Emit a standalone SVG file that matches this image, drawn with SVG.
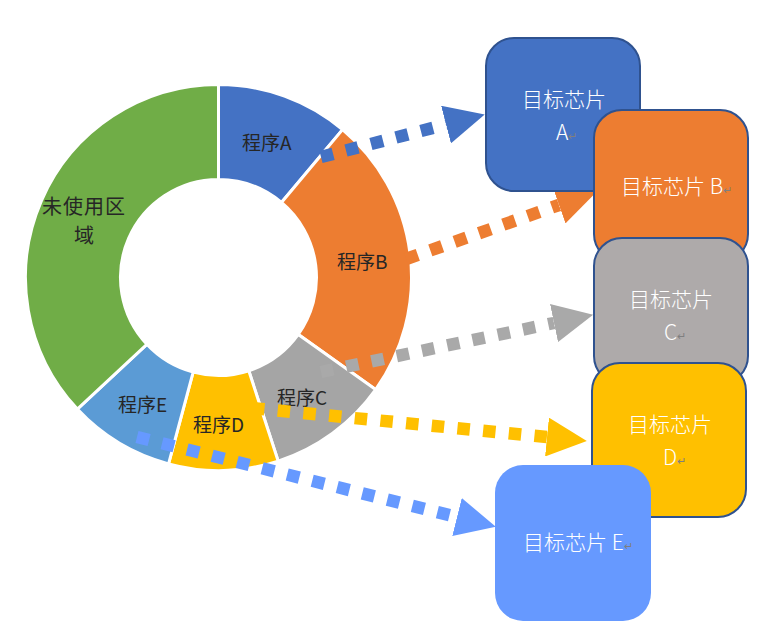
<svg xmlns="http://www.w3.org/2000/svg" width="770" height="635" viewBox="0 0 770 635">
<style>
.seg{stroke:#FFFFFF;stroke-width:3;stroke-linejoin:miter}
.lbl{font-family:"Noto Sans CJK SC","Noto Sans",sans-serif;font-size:19px;fill:#262626}
.box{stroke:#2F528F;stroke-width:2}
.bt{font-family:"Noto Sans CJK SC","Noto Sans",sans-serif;font-size:21px;fill:#FFFFFF;font-weight:300}
.rm{font-size:11px;fill:#7F7F7F}
.arr{fill:none;stroke-width:12.5;stroke-dasharray:12.5 13.3;stroke-linecap:butt}
</style>
<defs>
<marker id="hA" markerUnits="userSpaceOnUse" markerWidth="40" markerHeight="39" viewBox="0 0 40 39" refX="0" refY="19.5" orient="auto"><path d="M0,0 L40,19.5 L0,39 Z" fill="#4472C4"/></marker>
<marker id="hB" markerUnits="userSpaceOnUse" markerWidth="40" markerHeight="39" viewBox="0 0 40 39" refX="0" refY="19.5" orient="auto"><path d="M0,0 L40,19.5 L0,39 Z" fill="#ED7D31"/></marker>
<marker id="hC" markerUnits="userSpaceOnUse" markerWidth="40" markerHeight="39" viewBox="0 0 40 39" refX="0" refY="19.5" orient="auto"><path d="M0,0 L40,19.5 L0,39 Z" fill="#A9A9A9"/></marker>
<marker id="hD" markerUnits="userSpaceOnUse" markerWidth="40" markerHeight="39" viewBox="0 0 40 39" refX="0" refY="19.5" orient="auto"><path d="M0,0 L40,19.5 L0,39 Z" fill="#FFC000"/></marker>
<marker id="hE" markerUnits="userSpaceOnUse" markerWidth="40" markerHeight="39" viewBox="0 0 40 39" refX="0" refY="19.5" orient="auto"><path d="M0,0 L40,19.5 L0,39 Z" fill="#6699FF"/></marker>
</defs>

<g id="donut">
<g id="segA"><path class="seg" fill="#4472C4" d="M218.5,84.5 A193,193 0 0 1 342.56,129.66 L281.49,202.43 A98,98 0 0 0 218.5,179.5 Z"/><text class="lbl" x="242" y="150">程序A</text></g>
<g id="segB"><path class="seg" fill="#ED7D31" d="M342.56,129.66 A193,193 0 0 1 375.62,389.58 L298.28,334.41 A98,98 0 0 0 281.49,202.43 Z"/><text class="lbl" x="337" y="269">程序B</text></g>
<g id="segC"><path class="seg" fill="#A5A5A5" d="M375.62,389.58 A193,193 0 0 1 278.14,461.06 L248.78,370.71 A98,98 0 0 0 298.28,334.41 Z"/><text class="lbl" x="277" y="405">程序C</text></g>
<g id="segD"><path class="seg" fill="#FFC000" d="M278.14,461.06 A193,193 0 0 1 168.55,463.92 L193.14,372.16 A98,98 0 0 0 248.78,370.71 Z"/><text class="lbl" x="193" y="432">程序D</text></g>
<g id="segE"><path class="seg" fill="#5B9BD5" d="M168.55,463.92 A193,193 0 0 1 77.34,409.13 L146.82,344.34 A98,98 0 0 0 193.14,372.16 Z"/><text class="lbl" x="118" y="412">程序E</text></g>
<g id="segU"><path class="seg" fill="#70AD47" d="M77.34,409.13 A193,193 0 0 1 218.5,84.5 L218.5,179.5 A98,98 0 0 0 146.82,344.34 Z"/><text class="lbl" x="42" y="214" style="font-size:20px;letter-spacing:1px">未使用区</text><text class="lbl" x="74" y="243" style="font-size:20px">域</text></g>
</g>

<g id="connectors">
<path class="arr" stroke="#4472C4" d="M321,157 L446,124.5" marker-end="url(#hA)"/>
<path class="arr" stroke="#ED7D31" d="M406,259 L559,205" marker-end="url(#hB)"/>
<path class="arr" stroke="#A9A9A9" d="M321,372 L554,323" marker-end="url(#hC)"/>
<path class="arr" stroke="#FFC000" d="M252,408 L547,437" marker-end="url(#hD)"/>
<path class="arr" stroke="#6699FF" d="M137,437 L457,517" marker-end="url(#hE)"/>
</g>

<g id="chipA"><rect class="box" x="486" y="38" width="154" height="153" rx="28" fill="#4472C4"/><text class="bt" x="564" y="107" text-anchor="middle">目标芯片</text><text class="bt" x="556" y="140">A<tspan class="rm">↵</tspan></text></g>
<g id="chipB"><rect class="box" x="594" y="110" width="154" height="152" rx="28" fill="#ED7D31"/><text class="bt" x="621" y="194">目标芯片 B<tspan class="rm">↵</tspan></text></g>
<g id="chipC"><rect class="box" x="594" y="238" width="154" height="146" rx="28" fill="#AEAAAA"/><text class="bt" x="671" y="307" text-anchor="middle">目标芯片</text><text class="bt" x="664" y="340">C<tspan class="rm">↵</tspan></text></g>
<g id="chipD"><rect class="box" x="592" y="363" width="154" height="154" rx="28" fill="#FFC000"/><text class="bt" x="670" y="432" text-anchor="middle">目标芯片</text><text class="bt" x="663" y="465">D<tspan class="rm">↵</tspan></text></g>
<g id="chipE"><rect x="495" y="465" width="156" height="156" rx="28" fill="#6699FF"/><text class="bt" x="523" y="550">目标芯片 E<tspan class="rm">↵</tspan></text></g>
</svg>
